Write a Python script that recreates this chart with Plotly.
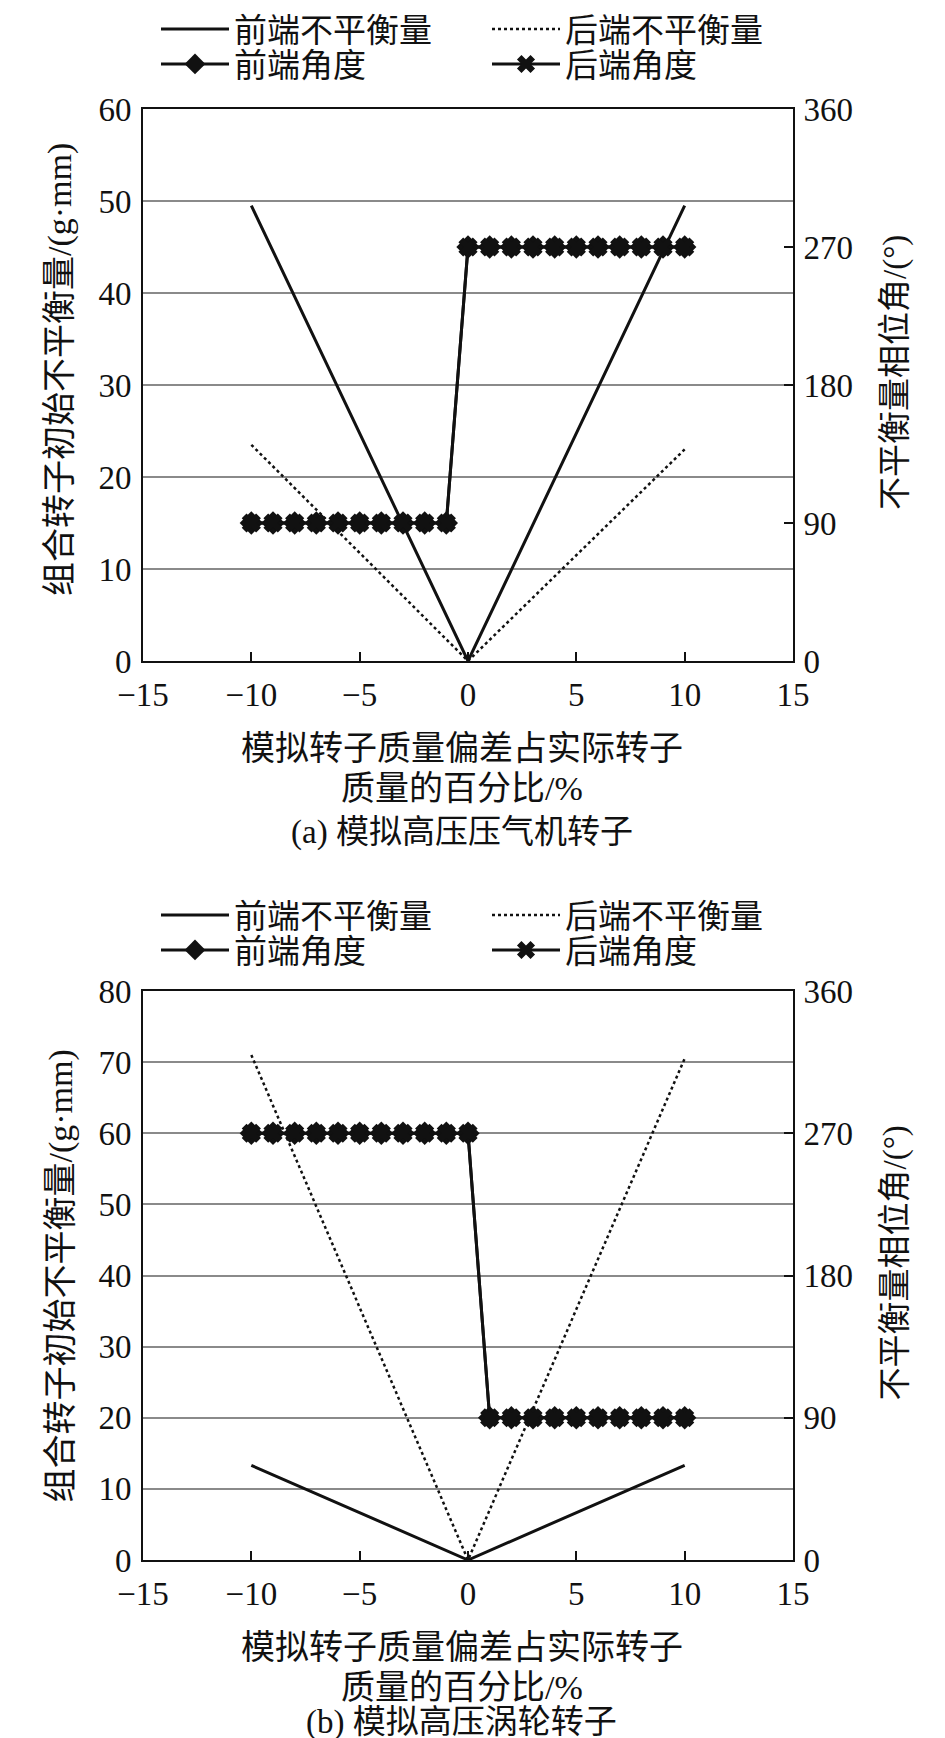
import plotly.graph_objects as go

# ---------------- data ----------------
# (a) simulated HP compressor rotor
x_imb = [-10, 0, 10]
a_front_imb = [49.5, 0, 49.5]
a_rear_imb = [23.5, 0, 23.0]
a_angle_x = [-10, -9, -8, -7, -6, -5, -4, -3, -2, -1, 0, 1, 2, 3, 4, 5, 6, 7, 8, 9, 10]
a_front_angle = [90, 90, 90, 90, 90, 90, 90, 90, 90, 90, 270, 270, 270, 270, 270, 270, 270, 270, 270, 270, 270]
a_rear_angle = [90, 90, 90, 90, 90, 90, 90, 90, 90, 90, 270, 270, 270, 270, 270, 270, 270, 270, 270, 270, 270]

# (b) simulated HP turbine rotor
b_front_imb = [13.3, 0, 13.3]
b_rear_imb = [71.0, 0, 70.5]
b_angle_x = [-10, -9, -8, -7, -6, -5, -4, -3, -2, -1, 0, 1, 2, 3, 4, 5, 6, 7, 8, 9, 10]
b_front_angle = [270, 270, 270, 270, 270, 270, 270, 270, 270, 270, 270, 90, 90, 90, 90, 90, 90, 90, 90, 90, 90]
b_rear_angle = [270, 270, 270, 270, 270, 270, 270, 270, 270, 270, 270, 90, 90, 90, 90, 90, 90, 90, 90, 90, 90]

names = ["前端不平衡量", "后端不平衡量", "前端角度", "后端角度"]
x_ticks = [-15, -10, -5, 0, 5, 10, 15]
a_left_ticks = [0, 10, 20, 30, 40, 50, 60]
b_left_ticks = [0, 10, 20, 30, 40, 50, 60, 70, 80]
right_ticks = [0, 90, 180, 270, 360]
x_title_1 = "模拟转子质量偏差占实际转子"
x_title_2 = "质量的百分比/%"
left_title = "组合转子初始不平衡量/(g·mm)"
right_title = "不平衡量相位角/(°)"
captions = ["(a) 模拟高压压气机转子", "(b) 模拟高压涡轮转子"]

# ---------------- layout constants ----------------
W, H = 945, 1738
ML, MR = 135, 160
a_top, a_bot = 101, 653
b_top, b_bot = 983, 1552
MT, MB = a_top, H - b_bot
PH = H - MT - MB
dom_a = [1 - (a_bot - MT) / PH, 1.0]
dom_b = [0.0, 1 - (b_top - MT) / PH]

FONT = "Liberation Serif, Noto Sans CJK SC"
BLACK = "#111111"
GRID = "#8a8a8a"

fig = go.Figure()


def add_panel(fig, xa, ya, ya2, legs, front_imb, rear_imb, ang_x, front_ang, rear_ang):
    fig.add_trace(go.Scatter(x=x_imb, y=front_imb, mode="lines", name=names[0],
                             line=dict(color=BLACK, width=3), xaxis=xa, yaxis=ya,
                             legend=legs[0]))
    fig.add_trace(go.Scatter(x=x_imb, y=rear_imb, mode="lines", name=names[1],
                             line=dict(color=BLACK, width=2.5, dash="dot"), xaxis=xa, yaxis=ya,
                             legend=legs[1]))
    fig.add_trace(go.Scatter(x=ang_x, y=front_ang, mode="lines+markers", name=names[2],
                             line=dict(color=BLACK, width=3),
                             marker=dict(symbol="diamond", size=18, color=BLACK),
                             xaxis=xa, yaxis=ya2, legend=legs[2]))
    fig.add_trace(go.Scatter(x=ang_x, y=rear_ang, mode="lines+markers", name=names[3],
                             line=dict(color=BLACK, width=3),
                             marker=dict(symbol="x", size=17, color=BLACK),
                             xaxis=xa, yaxis=ya2, legend=legs[3]))


add_panel(fig, "x", "y", "y2", ["legend", "legend2", "legend3", "legend4"],
          a_front_imb, a_rear_imb, a_angle_x, a_front_angle, a_rear_angle)
add_panel(fig, "x2", "y3", "y4", ["legend5", "legend6", "legend7", "legend8"],
          b_front_imb, b_rear_imb, b_angle_x, b_front_angle, b_rear_angle)

tickfont = dict(family=FONT, size=33, color=BLACK)

xcommon = dict(range=[-15, 15], tickvals=x_ticks, ticks="inside", ticklen=9, tickwidth=2,
               tickcolor=BLACK, showline=True, linecolor=BLACK, linewidth=2, mirror=True,
               showgrid=False, zeroline=False, tickfont=tickfont, ticklabelstandoff=3)
ycommon = dict(ticks="", showline=True, linecolor=BLACK, linewidth=2,
               showgrid=True, gridcolor=GRID, gridwidth=2, zeroline=False,
               tickfont=tickfont, ticklabelstandoff=3)
y2common = dict(range=[0, 360], tickvals=right_ticks, ticks="inside", ticklen=9, tickwidth=2,
                tickcolor=BLACK, showline=True, linecolor=BLACK, linewidth=2,
                showgrid=False, zeroline=False, tickfont=tickfont, side="right",
                ticklabelstandoff=2)


def leg(xpx, ypx):
    return dict(orientation="v", xref="container", yref="container", x=xpx / W, y=1 - ypx / H,
                xanchor="left", yanchor="middle", itemwidth=68,
                font=dict(family=FONT, size=33, color=BLACK),
                bgcolor="rgba(0,0,0,0)", itemclick=False, itemdoubleclick=False)


COL1, COL2 = 148, 479
fig.update_layout(
    width=W, height=H,
    margin=dict(l=ML, r=MR, t=MT, b=MB, autoexpand=False),
    paper_bgcolor="white", plot_bgcolor="white",
    font=dict(family=FONT, size=31, color=BLACK),
    showlegend=True,
    xaxis=dict(domain=[0, 1], anchor="y", **xcommon),
    yaxis=dict(domain=dom_a, anchor="x", range=[0, 60], tickvals=a_left_ticks, **ycommon),
    yaxis2=dict(domain=dom_a, anchor="x", overlaying="y", **y2common),
    xaxis2=dict(domain=[0, 1], anchor="y3", **xcommon),
    yaxis3=dict(domain=dom_b, anchor="x2", range=[0, 80], tickvals=b_left_ticks, **ycommon),
    yaxis4=dict(domain=dom_b, anchor="x2", overlaying="y3", **y2common),
    legend=leg(COL1, 21), legend2=leg(COL2, 21), legend3=leg(COL1, 56), legend4=leg(COL2, 56),
    legend5=leg(COL1, 907), legend6=leg(COL2, 907), legend7=leg(COL1, 942), legend8=leg(COL2, 942),
)

TF = dict(family=FONT, size=33, color=BLACK)
TFX = dict(family=FONT, size=34, color=BLACK)
annots = []
for dom, cap, loff, capshift in [(dom_a, captions[0], -15, -171),
                                 (dom_b, captions[1], 1, -162)]:
    ymid = (dom[0] + dom[1]) / 2
    annots.append(dict(text=left_title, xref="paper", yref="paper", x=0, y=ymid, xshift=-(ML - 52),
                       yshift=-loff, textangle=-90, showarrow=False, xanchor="center", yanchor="middle",
                       font=TFX))
    annots.append(dict(text=right_title, xref="paper", yref="paper", x=1, y=ymid, xshift=887 - 785,
                       yshift=12, textangle=-90, showarrow=False, xanchor="center", yanchor="middle",
                       font=TF))
    annots.append(dict(text=x_title_1, xref="paper", yref="paper", x=0.49, y=dom[0], yshift=-87,
                       showarrow=False, xanchor="center", yanchor="middle", font=TFX))
    annots.append(dict(text=x_title_2, xref="paper", yref="paper", x=0.49, y=dom[0], yshift=-127,
                       showarrow=False, xanchor="center", yanchor="middle", font=TFX))
    annots.append(dict(text=cap, xref="paper", yref="paper", x=0.49, y=dom[0], yshift=capshift,
                       showarrow=False, xanchor="center", yanchor="middle", font=TF))
fig.update_layout(annotations=annots)

fig.write_html("out.html")
